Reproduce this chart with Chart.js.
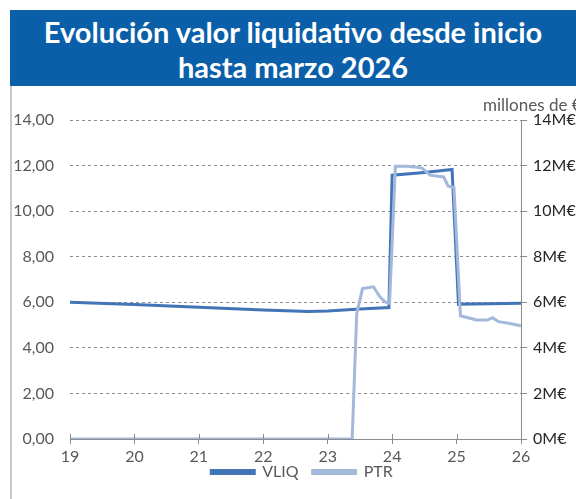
<!DOCTYPE html>
<html>
<head>
<meta charset="utf-8">
<script src="https://cdn.jsdelivr.net/npm/chart.js@4/dist/chart.umd.min.js"></script>
<style>
    body { margin: 0; width: 576px; height: 499px; overflow: hidden; background: #fff; position: relative; font-family: Lato, sans-serif; }
    #header { position: absolute; left: 10px; top: 10px; width: 566px; height: 76px; background: #0b5fa9; color: #fff; font-weight: bold; font-size: 29px; line-height: 35px; text-align: center; padding-top: 4px; box-sizing: border-box; white-space: nowrap; }
    #box { position: absolute; left: 10px; top: 86px; width: 580px; height: 413px; border-left: 2px solid #c8c8c8; }
    #unit { position: absolute; left: 483px; top: 94px; font-size: 17px; color: #595959; white-space: nowrap; }
</style>
</head>
<body>
<div id="header">Evolución valor liquidativo desde inicio<br>hasta marzo 2026</div>
<div id="box"><canvas id="chart" width="580" height="413"></canvas></div>
<div id="unit">millones de €</div>
<script>
// valor liquidativo (eje izq.)
const vliqX = [19, 20, 21, 22, 22.7, 23, 23.5, 23.95, 24.0, 24.5, 24.93, 25.03, 25.5, 26];
const vliqY = [6.0, 5.9, 5.78, 5.66, 5.6, 5.62, 5.7, 5.77, 11.58, 11.7, 11.83, 5.92, 5.94, 5.96];
// patrimonio en M€ (eje dcho.)
const ptrX = [19, 20, 21, 22, 23, 23.38, 23.45, 23.54, 23.71, 23.81, 23.89, 23.96, 24.05, 24.23, 24.46, 24.59, 24.8, 24.87, 24.96, 25.06, 25.31, 25.47, 25.56, 25.65, 25.83, 26];
const ptrY = [0, 0, 0, 0, 0, 0, 5.5, 6.6, 6.68, 6.24, 6.02, 5.95, 11.97, 11.97, 11.9, 11.58, 11.5, 11.1, 11.04, 5.41, 5.22, 5.22, 5.32, 5.15, 5.07, 4.97];
const leftTicks = [0, 2, 4, 6, 8, 10, 12, 14];

const txt = '#595959';
const gridCol = '#8c8c8c';

const crossTicks = {
    id: 'crossTicks',
    afterUpdate(chart) {
        // subir la leyenda, mas cerca del eje
        const lg = chart.legend;
        if (lg) {
            lg.top -= 15;
            lg.height += 15;
            lg.adjustHitBoxes();
        }
    },
    afterDatasetsDraw(chart) {
        const xs = chart.scales.x;
        const ctx = chart.ctx;
        const yb = chart.chartArea.bottom;
        ctx.save();
        ctx.strokeStyle = '#8c8c8c';
        ctx.lineWidth = 1;
        for (let v = 19; v <= 26; v++) {
            const px = Math.round(xs.getPixelForValue(v)) + 0.5;
            ctx.beginPath();
            ctx.moveTo(px, yb - 5);
            ctx.lineTo(px, yb);
            ctx.stroke();
        }
        ctx.restore();
    }
};

new Chart(document.getElementById('chart'), {
    type: 'line',
    data: {
        datasets: [{
            label: 'VLIQ',
            data: vliqX.map((x, i) => ({ x: x, y: vliqY[i] })),
            yAxisID: 'y',
            borderColor: '#4274b8',
            backgroundColor: '#4274b8',
            borderWidth: 3,
            pointRadius: 0,
            order: 1
        }, {
            label: 'PTR',
            data: ptrX.map((x, i) => ({ x: x, y: ptrY[i] })),
            yAxisID: 'y1',
            borderColor: '#a3b8da',
            backgroundColor: '#a3b8da',
            borderWidth: 3,
            pointRadius: 0,
            order: 0
        }]
    },
    options: {
        responsive: false,
        animation: false,
        layout: { padding: { left: 0, right: 0, top: 34, bottom: 7 } },
        scales: {
            x: {
                type: 'linear',
                min: 19,
                max: 26,
                afterFit: axis => { axis.height = 26; },
                ticks: { stepSize: 1, color: txt, font: { family: 'Lato', size: 16 }, padding: 3 },
                grid: { display: true, drawOnChartArea: false, color: '#8c8c8c', tickLength: 5 },
                border: { display: true, color: '#8c8c8c' }
            },
            y: {
                position: 'left',
                min: 0,
                max: 14,
                afterBuildTicks: axis => { axis.ticks = leftTicks.map(v => ({ value: v })); },
                afterFit: axis => { axis.width = 58; },
                ticks: {
                    color: txt, font: { family: 'Lato', size: 16 }, padding: 16,
                    callback: v => v.toFixed(2).replace('.', ',')
                },
                grid: { color: gridCol, tickLength: 0, lineWidth: 1 },
                border: { display: false, dash: [3, 3] }
            },
            y1: {
                position: 'right',
                min: 0,
                max: 14,
                afterBuildTicks: axis => { axis.ticks = leftTicks.map(v => ({ value: v })); },
                afterFit: axis => { axis.width = 71; },
                ticks: {
                    color: '#262626', font: { family: 'Lato', size: 16 }, padding: 6,
                    callback: v => v + 'M€'
                },
                grid: { drawOnChartArea: false, color: '#8c8c8c', tickLength: 6 },
                border: { display: true, color: '#8c8c8c' }
            }
        },
        plugins: {
            legend: {
                position: 'bottom',
                maxHeight: 27,
                labels: {
                    color: txt, font: { family: 'Lato', size: 16 }, boxWidth: 43, boxHeight: 3, padding: 14,
                    sort: (a, b) => a.datasetIndex - b.datasetIndex
                }
            },
            tooltip: { enabled: false }
        }
    },
    plugins: [crossTicks]
});
</script>
</body>
</html>
